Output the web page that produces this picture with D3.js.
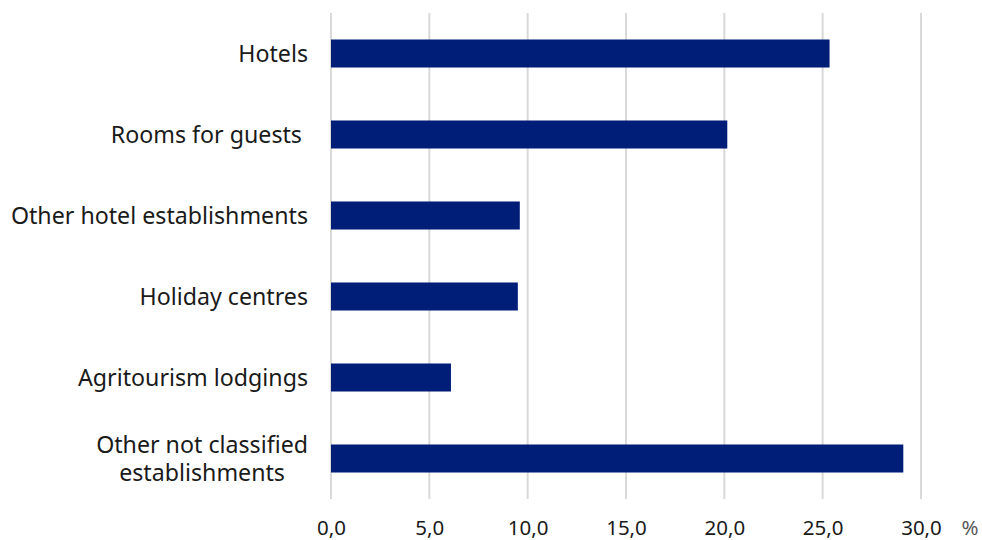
<!DOCTYPE html>
<html>
<head>
<meta charset="utf-8">
<script src="https://cdn.jsdelivr.net/npm/d3@7"></script>
<style>
  body { margin: 0; background: #fff; }
  text { font-family: "Noto Sans", sans-serif; }
</style>
</head>
<body>
<div id="chart"></div>
<script>
const categories = ["Hotels", "Rooms for guests ", "Other hotel establishments", "Holiday centres", "Agritourism lodgings", "Other not classified|establishments"];
const values = [25.35, 20.15, 9.6, 9.5, 6.1, 29.1];
const xTicks = [0, 5, 10, 15, 20, 25, 30];

const W = 982, H = 540;
const margin = {top: 13, right: 61, bottom: 41, left: 331};
const width = W - margin.left - margin.right,
      height = H - margin.top - margin.bottom;

const svg = d3.select("#chart").append("svg")
    .attr("width", W).attr("height", H);
const g = svg.append("g")
    .attr("transform", "translate(" + margin.left + "," + margin.top + ")");

let x = d3.scaleLinear().domain([0, 30]).range([0, width]);
let y = d3.scaleBand().domain(categories).range([0, height])
    .paddingInner(0.654).paddingOuter(0.327);

// gridlines
g.selectAll(".grid").data(xTicks).enter().append("line")
    .attr("x1", d => x(d)).attr("x2", d => x(d))
    .attr("y1", 0).attr("y2", height)
    .attr("stroke", "#d9d9d9").attr("stroke-width", 2);

// bars
g.selectAll(".bar").data(categories).enter().append("rect")
    .attr("x", x(0))
    .attr("y", d => y(d))
    .attr("width", (d, i) => x(values[i]) - x(0))
    .attr("height", y.bandwidth())
    .attr("fill", "#001e78");

// x axis tick labels
const xAxis = g.append("g")
    .attr("transform", "translate(0," + height + ")")
    .call(d3.axisBottom(x).tickValues(xTicks).tickSize(0).tickPadding(21)
        .tickFormat(d => d3.format(".1f")(d).replace(".", ",")));
xAxis.select(".domain").remove();
xAxis.selectAll("text").attr("font-size", 20.5).attr("fill", "#1a1a1a")
    .style("font-family", "'Noto Sans', sans-serif");

g.append("text")
    .attr("x", x(30) + 49).attr("y", height + 36)
    .attr("text-anchor", "middle").attr("font-size", 20.5).attr("fill", "#595959")
    .text("%");

// category labels
const labelRight = -23;
categories.forEach(c => {
  const lines = c.split("|");
  const t = g.append("text")
      .attr("font-size", 23.2).attr("fill", "#1a1a1a")
      .style("white-space", "pre");
  const cy = y(c) + y.bandwidth() / 2;
  const lh = 28;
  lines.forEach((l, i) => {
    t.append("tspan").attr("y", cy + (i - (lines.length - 1) / 2) * lh + 8).text(l);
  });
  // right-align block, center lines inside it
  const widths = t.selectAll("tspan").nodes().map(n => n.getComputedTextLength());
  const maxW = d3.max(widths);
  t.attr("text-anchor", "middle");
  t.selectAll("tspan").attr("x", labelRight - maxW / 2);
});
</script>
</body>
</html>
